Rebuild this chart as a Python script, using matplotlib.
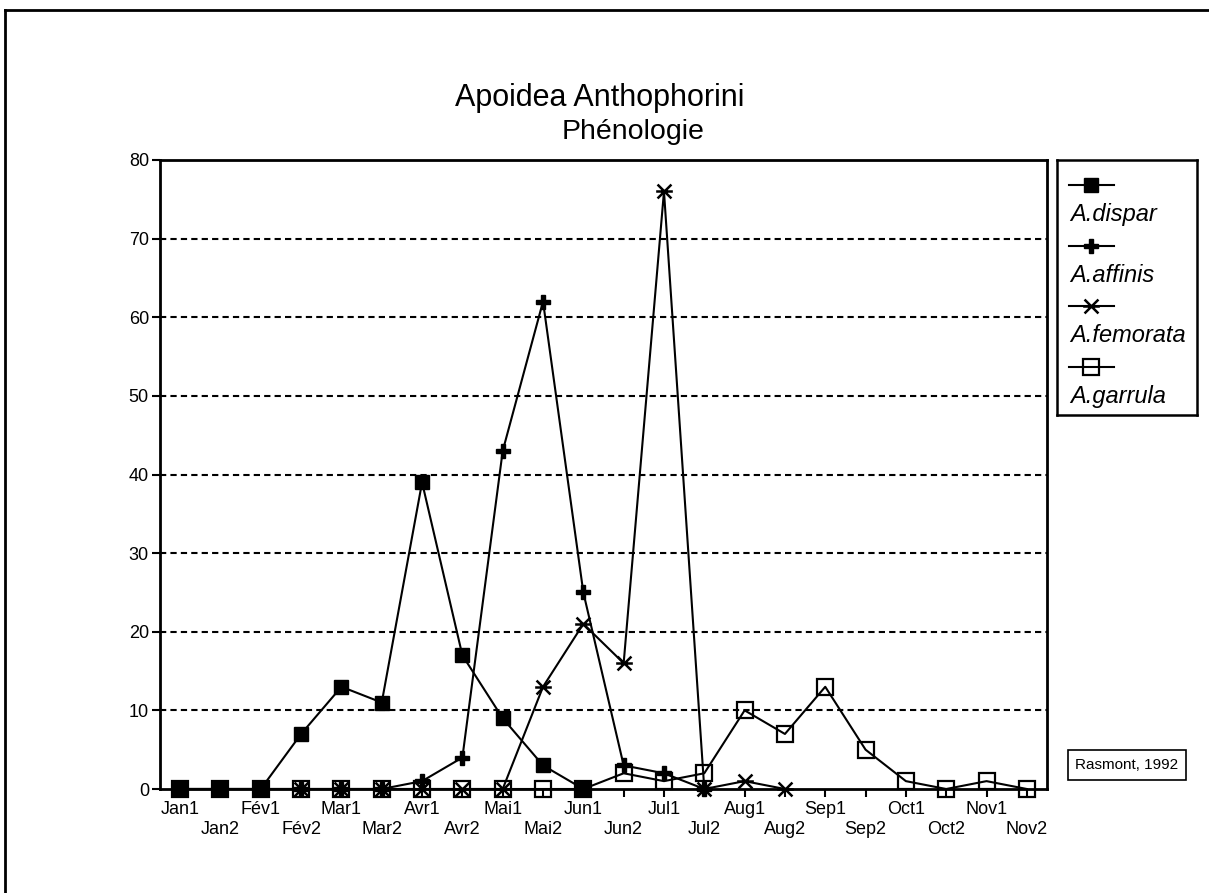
import numpy as np
import matplotlib.pyplot as plt
from matplotlib.lines import Line2D
from matplotlib.path import Path

plt.rcParams['font.family'] = ['Liberation Sans', 'DejaVu Sans']

# quinzaines (periodes de 2 semaines)
periodes = ['Jan1', 'Jan2', 'Fév1', 'Fév2', 'Mar1', 'Mar2', 'Avr1', 'Avr2',
            'Mai1', 'Mai2', 'Jun1', 'Jun2', 'Jul1', 'Jul2', 'Aug1', 'Aug2',
            'Sep1', 'Sep2', 'Oct1', 'Oct2', 'Nov1', 'Nov2']
nan = np.nan
dispar = [0, 0, 0, 7, 13, 11, 39, 17, 9, 3, 0] + [nan] * 11
affinis = [0, 0, 0, 0, 0, 0, 1, 4, 43, 62, 25, 3, 2, 0] + [nan] * 8
femorata = [0, 0, 0, 0, 0, 0, 0, 0, 0, 13, 21, 16, 76, 0, 1, 0] + [nan] * 6
garrula = [0, 0, 0, 0, 0, 0, 0, 0, 0, 0, 0, 2, 1, 2, 10, 7, 13, 5, 1, 0, 1, 0]
yticks = [0, 10, 20, 30, 40, 50, 60, 70, 80]

# asterisque: croix + barre horizontale
etoile = Path([(-1, -1), (1, 1), (-1, 1), (1, -1), (-1.2, 0), (1.2, 0)],
              [Path.MOVETO, Path.LINETO, Path.MOVETO, Path.LINETO, Path.MOVETO, Path.LINETO])

noms = ['A.dispar', 'A.affinis', 'A.femorata', 'A.garrula']
series = [dispar, affinis, femorata, garrula]
styles = [dict(marker='s', ms=10, mfc='k', mec='k'),
          dict(marker='P', ms=10, mfc='k', mec='k'),
          dict(marker=etoile, ms=12, mew=1.8, mec='k'),
          dict(marker='s', ms=11, mfc='none', mec='k', mew=1.6)]
ordre = [3, 2, 1, 4]  # zorder

fig = plt.figure(figsize=(12.09, 8.93), dpi=100)
ax = fig.add_axes([160/1209, 1-789/893, (1047-160)/1209, (789-160)/893])

x = np.arange(len(periodes))
for s, st, z in zip(series, styles, ordre):
    ax.plot(x, s, color='k', lw=1.5, clip_on=False, zorder=z, **st)

ax.set_xlim(-0.5, len(periodes) - 0.5)
ax.set_ylim(0, 80)
ax.set_yticks(yticks)
ax.set_xticks(x)
ax.set_xticklabels([p if i % 2 == 0 else '\n' + p for i, p in enumerate(periodes)])
ax.tick_params(axis='both', direction='out', length=6, width=1.5, labelsize=13, colors='k')
ax.tick_params(axis='y', pad=2)
ax.tick_params(axis='x', pad=3)
for sp in ax.spines.values():
    sp.set_linewidth(2)
for v in yticks[1:-1]:
    ax.axhline(v, color='k', lw=1.5, ls=(0, (3, 2)), zorder=0.5)

fig.text(0.496, 1-98/893, 'Apoidea Anthophorini', ha='center', va='center', fontsize=22)
fig.text(0.524, 1-132/893, 'Phénologie', ha='center', va='center', fontsize=20.5)

# legende: symbole au-dessus du nom
lg = fig.add_axes([1057/1209, 1-415/893, 140/1209, 255/893])
lg.set_xlim(0, 140)
lg.set_ylim(255, 0)
lg.set_xticks([])
lg.set_yticks([])
for sp in lg.spines.values():
    sp.set_linewidth(1.8)
for i, (nom, st) in enumerate(zip(noms, styles)):
    y0 = 25 + i * 60.5
    lg.plot([12, 57], [y0, y0], color='k', lw=1.5)
    lg.plot([34], [y0], color='k', **st)
    lg.text(13, y0 + 30, nom, ha='left', va='center', fontsize=17, style='italic')

fig.text(1127/1209, 1-765/893, 'Rasmont, 1992', ha='center', va='center', fontsize=11,
         bbox=dict(boxstyle='square,pad=0.5', fc='white', ec='k', lw=1.2))

# cadre de la page
fig.add_artist(Line2D([5/1209, 5/1209], [0, 1-10/893], color='k', lw=2, transform=fig.transFigure))
fig.add_artist(Line2D([5/1209, 1], [1-10/893, 1-10/893], color='k', lw=2, transform=fig.transFigure))

fig.savefig('out.png', dpi=100)
